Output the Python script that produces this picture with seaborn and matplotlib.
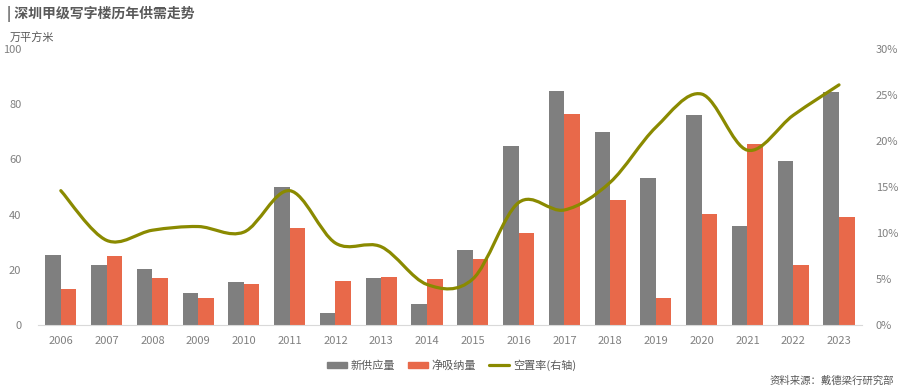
import numpy as np
import pandas as pd
import matplotlib
matplotlib.use("Agg")
import matplotlib.pyplot as plt
from matplotlib.path import Path
from matplotlib.patches import PathPatch, Patch
from matplotlib.lines import Line2D
from matplotlib.ticker import FuncFormatter
import seaborn as sns

# 数据
years = [str(y) for y in range(2006, 2024)]
new_supply = [25.4, 21.7, 20.3, 11.6, 15.6, 50.0, 4.3, 17.0, 7.6, 27.2,
              64.9, 84.8, 70.0, 53.3, 76.0, 35.9, 59.4, 84.4]
net_absorption = [13.0, 25.0, 17.0, 9.8, 14.9, 35.1, 15.9, 17.4, 16.7, 24.0,
                  33.3, 76.4, 45.3, 9.8, 40.2, 65.6, 21.7, 39.1]
vacancy = [14.6, 9.2, 10.3, 10.7, 10.1, 14.6, 8.9, 8.5, 4.4, 5.0,
           13.3, 12.5, 15.5, 21.5, 25.1, 19.0, 22.8, 26.1]  # %

c_grey = "#7f7f7f"
c_orange = "#e8694a"
c_olive = "#8a8a00"

sns.set_style("white")
plt.rcParams['font.family'] = ['Noto Sans CJK SC', 'DejaVu Sans']

df = pd.DataFrame({"year": years * 2,
                   "value": new_supply + net_absorption,
                   "kind": ["新供应量"] * len(years) + ["净吸纳量"] * len(years)})

fig = plt.figure(figsize=(9.03, 3.92), dpi=100)
ax = fig.add_axes([0.042, 0.171, 0.9125, 0.704])

sns.barplot(data=df, x="year", y="value", hue="kind", palette=[c_grey, c_orange],
            width=0.68, gap=0, saturation=1, linewidth=0, ax=ax, legend=False)
ax.set_xlim(-0.5, len(years) - 0.5)
ax.set_ylim(0, 100)
ax.set_yticks(range(0, 101, 20))
ax.set_xlabel("")
ax.set_ylabel("")
for s in ["left", "right", "top"]:
    ax.spines[s].set_visible(False)
ax.spines["bottom"].set_color("#d9d9d9")
ax.tick_params(axis="both", length=0, colors="#808080", labelsize=8)
ax.tick_params(axis="y", pad=12)
ax.tick_params(axis="x", pad=8)

# 空置率平滑曲线 (右轴)
ax2 = ax.twinx()
ax2.set_ylim(0, 30)
ax2.set_yticks(range(0, 31, 5))
ax2.yaxis.set_major_formatter(FuncFormatter(lambda v, p: f"{int(v)}%"))
for s in ["left", "right", "top", "bottom"]:
    ax2.spines[s].set_visible(False)
ax2.tick_params(axis="y", length=0, colors="#808080", labelsize=8, pad=10)

pts = np.column_stack([np.arange(len(vacancy)), vacancy])
verts = [pts[0]]
codes = [Path.MOVETO]
n = len(pts)
for i in range(n - 1):
    p0 = pts[max(i - 1, 0)]
    p1 = pts[i]
    p2 = pts[i + 1]
    p3 = pts[min(i + 2, n - 1)]
    c1 = p1 + (p2 - p0) / 6
    c2 = p2 - (p3 - p1) / 6
    verts += [c1, c2, p2]
    codes += [Path.CURVE4] * 3
ax2.add_patch(PathPatch(Path(verts, codes), fill=False, edgecolor=c_olive,
                        lw=2.3, capstyle="round", joinstyle="round"))

# 标题与注释
fig.text(0.008, 0.965, "| 深圳甲级写字楼历年供需走势", fontsize=10, fontweight="bold",
         color="#595959", va="center")
fig.text(0.011, 0.905, "万平方米", fontsize=8, color="#595959", va="center")
fig.text(0.99, 0.03, "资料来源：戴德梁行研究部", fontsize=7.5, color="#595959",
         ha="right", va="center")

handles = [Patch(color=c_grey), Patch(color=c_orange), Line2D([], [], color=c_olive, lw=2.3)]
fig.legend(handles, ["新供应量", "净吸纳量", "空置率(右轴)"], loc="center",
           bbox_to_anchor=(0.5, 0.068), ncol=3, frameon=False, fontsize=8,
           labelcolor="#595959", handlelength=1.8, handleheight=0.5,
           columnspacing=1.2, handletextpad=0.3)

plt.savefig("out.png", dpi=100)
